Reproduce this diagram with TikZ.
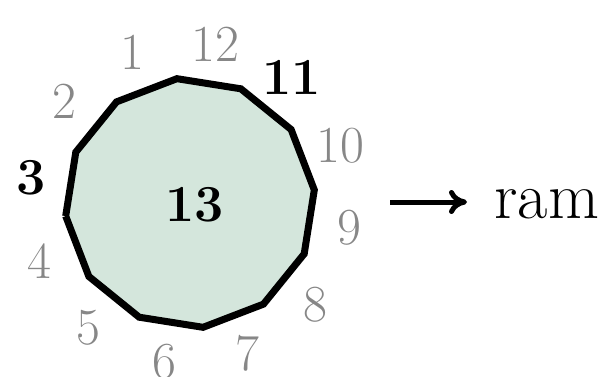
\documentclass[tikz,border=0pt]{standalone}
\usepackage{tikz}
\usetikzlibrary{arrows.meta,calc}

\definecolor{cellfill}{RGB}{212,230,220}
\definecolor{labgray}{RGB}{135,135,135}

\tikzset{
    lab/.style={text=labgray, inner sep=0pt, font=\fontsize{26}{30}\selectfont},
    hilab/.style={text=black, inner sep=0pt, font=\fontsize{26}{30}\selectfont\bfseries},
}

\begin{document}
\begin{tikzpicture}[x=0.5pt, y=0.5pt, >={Computer Modern Rightarrow[length=9pt,width=12pt]}]
    \useasboundingbox (0,0) rectangle (606,376);

    \coordinate (O) at (190,173);
    \foreach \i in {0,...,11}
        \coordinate (v\i) at ($(O)+(186-30*\i:125)$);

    \fill[cellfill] (v0) -- (v1) -- (v2) -- (v3) -- (v4) -- (v5) -- (v6) -- (v7) -- (v8) -- (v9) -- (v10) -- (v11) -- cycle;
    \draw[line width=3.5pt] (v0) -- (v1) -- (v2) -- (v3) -- (v4) -- (v5) -- (v6) -- (v7) -- (v8) -- (v9) -- (v10) -- (v11) -- (v0);

    \foreach \k in {1,2,4,5,6,7,8,9,10,12}
        \node[lab] (l\k) at ($(O)+(81+30*\k:161)$) {\k};
    \node[hilab] (l3) at ($(O)+(171:161)$) {3};
    \node[hilab] (l11) at ($(O)+(51:161)$) {11};

    \node[hilab] (l13) at (195,171) {13};

    \node[inner sep=0pt, anchor=base west, font=\fontsize{33}{37}\selectfont] (ram) at (494,158) {ram};
    \coordinate (tail) at (390,174);
    \coordinate (head) at (467,174);
    \draw[->, line width=2.5pt] (tail) -- (head);
\end{tikzpicture}
\end{document}
